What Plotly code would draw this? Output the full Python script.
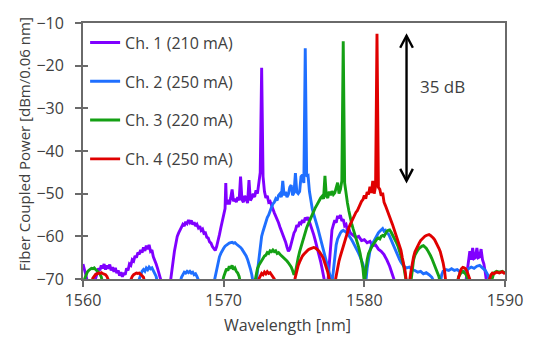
import plotly.graph_objects as go

# Spectra: (wavelength nm, fiber-coupled power dBm/0.06 nm); values below -70 sit under the axis floor
CH1 = [
    (1560.0, -66.5), (1560.1, -67.5), (1560.2, -69.0), (1560.3, -70.5), (1560.5, -71.0), (1560.8, -71.0),
    (1561.0, -69.0), (1561.1, -67.5), (1561.2, -68.0), (1561.3, -66.8), (1561.4, -67.5), (1561.5, -66.5),
    (1561.6, -67.8), (1561.7, -66.8), (1561.8, -67.6), (1561.9, -66.6), (1562.0, -68.0), (1562.1, -67.2),
    (1562.2, -68.3), (1562.3, -67.4), (1562.4, -68.6), (1562.5, -68.0), (1562.6, -69.2), (1562.7, -68.4),
    (1562.8, -69.5), (1562.9, -68.6), (1563.0, -69.0), (1563.1, -67.5), (1563.2, -68.0), (1563.3, -66.5),
    (1563.4, -66.8), (1563.5, -65.5), (1563.6, -65.8), (1563.7, -64.6), (1563.8, -65.0), (1563.9, -63.8),
    (1564.0, -64.2), (1564.1, -63.2), (1564.2, -63.8), (1564.3, -62.6), (1564.4, -63.4), (1564.5, -62.2),
    (1564.6, -63.0), (1564.7, -62.0), (1564.8, -63.5), (1564.9, -63.2), (1565.0, -64.8), (1565.1, -65.5),
    (1565.2, -66.5), (1565.3, -67.5), (1565.4, -68.6), (1565.5, -69.5), (1565.6, -71.0), (1566.2, -71.0),
    (1566.3, -69.0), (1566.4, -66.0), (1566.5, -63.5), (1566.6, -61.5), (1566.7, -60.0), (1566.8, -59.2),
    (1566.9, -58.5), (1567.0, -58.0), (1567.1, -57.2), (1567.2, -57.6), (1567.3, -56.6), (1567.4, -57.0),
    (1567.5, -56.2), (1567.6, -56.8), (1567.7, -56.3), (1567.8, -57.2), (1567.9, -56.7), (1568.0, -57.6),
    (1568.1, -57.2), (1568.2, -58.0), (1568.3, -57.6), (1568.4, -58.6), (1568.5, -58.3), (1568.6, -59.3),
    (1568.7, -59.2), (1568.8, -60.2), (1568.9, -60.4), (1569.0, -61.3), (1569.1, -61.6), (1569.2, -62.4),
    (1569.3, -62.8), (1569.4, -63.3), (1569.5, -62.4), (1569.6, -61.2), (1569.7, -59.6), (1569.8, -58.0),
    (1569.9, -56.5), (1570.0, -55.0), (1570.1, -53.5), (1570.15, -47.5), (1570.2, -52.5), (1570.3, -51.5),
    (1570.4, -52.5), (1570.5, -51.0), (1570.6, -49.0), (1570.7, -51.8), (1570.8, -51.2), (1570.9, -52.0),
    (1571.0, -50.8), (1571.1, -51.6), (1571.2, -46.0), (1571.3, -51.4), (1571.4, -52.0), (1571.5, -50.5),
    (1571.6, -51.4), (1571.7, -52.2), (1571.8, -46.8), (1571.9, -51.6), (1572.0, -51.0), (1572.1, -50.0),
    (1572.2, -50.8), (1572.3, -49.2), (1572.4, -50.0), (1572.5, -47.5), (1572.6, -45.0), (1572.7, -20.5),
    (1572.8, -46.0), (1572.9, -49.5), (1573.0, -51.0), (1573.1, -50.5), (1573.2, -52.0), (1573.3, -51.8),
    (1573.4, -53.0), (1573.5, -53.6), (1573.6, -54.5), (1573.7, -55.2), (1573.8, -56.3), (1573.9, -56.8),
    (1574.0, -57.8), (1574.1, -58.6), (1574.2, -59.6), (1574.3, -60.4), (1574.4, -61.3), (1574.5, -62.5),
    (1574.6, -63.5), (1574.7, -63.0), (1574.8, -61.5), (1574.9, -60.5), (1575.0, -59.2), (1575.1, -58.6),
    (1575.2, -57.4), (1575.3, -57.8), (1575.4, -56.6), (1575.5, -57.0), (1575.6, -56.2), (1575.7, -56.8),
    (1575.8, -55.6), (1575.9, -56.2), (1576.0, -55.5), (1576.1, -56.6), (1576.2, -57.5), (1576.3, -58.4),
    (1576.4, -59.6), (1576.5, -60.8), (1576.6, -62.0), (1576.7, -63.2), (1576.8, -64.6), (1576.9, -66.0),
    (1577.0, -67.6), (1577.1, -69.0), (1577.2, -71.0), (1577.4, -71.0), (1577.5, -66.0), (1577.6, -61.0),
    (1577.7, -58.5), (1577.8, -57.3), (1577.9, -56.2), (1578.0, -56.8), (1578.1, -55.2), (1578.2, -55.8),
    (1578.3, -55.0), (1578.4, -56.4), (1578.5, -56.0), (1578.6, -57.5), (1578.7, -57.2), (1578.8, -58.6),
    (1578.9, -58.2), (1579.0, -59.2), (1579.2, -59.8), (1579.4, -60.3), (1579.6, -60.0), (1579.8, -61.0),
    (1580.0, -60.8), (1580.2, -61.5), (1580.4, -61.2), (1580.6, -62.2), (1580.8, -62.0), (1581.0, -63.0),
    (1581.2, -63.5), (1581.4, -64.3), (1581.6, -65.5), (1581.8, -67.0), (1582.0, -69.0), (1582.2, -71.0),
    (1587.2, -71.0), (1587.3, -68.0), (1587.4, -65.5), (1587.5, -63.5), (1587.6, -65.5), (1587.7, -62.7),
    (1587.8, -65.2), (1587.9, -65.0), (1588.0, -62.7), (1588.1, -65.0), (1588.2, -64.8), (1588.3, -63.0),
    (1588.4, -65.5), (1588.5, -66.5), (1588.6, -68.5), (1588.7, -71.0), (1590.0, -71.0),
]

CH2 = [
    (1560.0, -71.0), (1563.9, -71.0), (1564.0, -70.0), (1564.1, -68.8), (1564.2, -68.2), (1564.3, -67.8),
    (1564.4, -68.2), (1564.5, -67.4), (1564.6, -67.8), (1564.7, -67.2), (1564.8, -67.6), (1564.9, -67.4),
    (1565.0, -68.0), (1565.1, -68.6), (1565.2, -69.4), (1565.3, -71.0), (1566.9, -71.0), (1567.0, -69.6),
    (1567.1, -68.8), (1567.2, -68.4), (1567.3, -68.6), (1567.4, -68.2), (1567.5, -68.5), (1567.6, -68.2),
    (1567.7, -68.6), (1567.8, -68.4), (1567.9, -69.0), (1568.0, -68.8), (1568.1, -69.4), (1568.2, -70.0),
    (1568.3, -71.0), (1569.3, -71.0), (1569.4, -69.5), (1569.5, -67.5), (1569.6, -66.0), (1569.7, -64.8),
    (1569.8, -64.0), (1569.9, -63.2), (1570.0, -62.8), (1570.1, -62.3), (1570.2, -62.0), (1570.3, -61.8),
    (1570.4, -61.6), (1570.5, -61.5), (1570.6, -61.4), (1570.7, -61.6), (1570.8, -61.5), (1570.9, -61.8),
    (1571.0, -62.0), (1571.1, -62.3), (1571.2, -62.6), (1571.3, -63.0), (1571.4, -63.5), (1571.5, -64.0),
    (1571.6, -64.6), (1571.7, -65.4), (1571.8, -66.4), (1571.9, -67.6), (1572.0, -69.0), (1572.1, -71.0),
    (1572.3, -71.0), (1572.4, -68.0), (1572.5, -64.5), (1572.6, -62.0), (1572.7, -60.0), (1572.8, -58.8),
    (1572.9, -57.6), (1573.0, -56.6), (1573.1, -55.6), (1573.2, -55.0), (1573.3, -53.8), (1573.4, -53.2),
    (1573.5, -52.4), (1573.6, -52.0), (1573.7, -51.2), (1573.8, -51.6), (1573.9, -50.4), (1574.0, -50.0),
    (1574.1, -50.8), (1574.2, -47.0), (1574.3, -50.4), (1574.4, -49.6), (1574.5, -50.8), (1574.6, -50.2),
    (1574.7, -48.5), (1574.8, -48.0), (1574.9, -50.4), (1575.0, -49.8), (1575.1, -45.2), (1575.2, -49.6),
    (1575.3, -50.0), (1575.4, -49.5), (1575.5, -46.0), (1575.6, -45.6), (1575.7, -47.5), (1575.8, -15.9),
    (1575.9, -46.0), (1576.0, -45.8), (1576.1, -49.5), (1576.2, -52.0), (1576.3, -53.6), (1576.4, -54.8),
    (1576.5, -55.8), (1576.6, -57.0), (1576.7, -58.2), (1576.8, -59.5), (1576.9, -60.8), (1577.0, -62.0),
    (1577.1, -63.2), (1577.2, -64.5), (1577.3, -65.8), (1577.4, -66.6), (1577.5, -68.0), (1577.6, -69.5),
    (1577.7, -71.0), (1577.8, -68.0), (1577.9, -64.5), (1578.0, -62.0), (1578.1, -60.6), (1578.2, -59.8),
    (1578.3, -59.2), (1578.4, -58.8), (1578.5, -58.6), (1578.6, -58.8), (1578.7, -59.0), (1578.8, -59.3),
    (1578.9, -59.8), (1579.0, -60.2), (1579.1, -60.8), (1579.2, -61.4), (1579.3, -62.0), (1579.4, -62.7),
    (1579.5, -63.4), (1579.6, -64.0), (1579.7, -64.8), (1579.8, -65.5), (1579.9, -66.5), (1580.0, -68.0),
    (1580.1, -71.0), (1580.2, -67.5), (1580.3, -65.0), (1580.4, -63.4), (1580.5, -62.2), (1580.6, -61.6),
    (1580.7, -60.8), (1580.8, -60.2), (1580.9, -59.6), (1581.0, -59.2), (1581.1, -58.8), (1581.2, -58.4),
    (1581.3, -58.2), (1581.4, -58.8), (1581.5, -58.6), (1581.6, -59.2), (1581.7, -59.4), (1581.8, -60.0),
    (1581.9, -60.8), (1582.0, -61.8), (1582.1, -62.6), (1582.2, -63.2), (1582.3, -63.8), (1582.4, -64.6),
    (1582.5, -65.4), (1582.6, -66.0), (1582.7, -66.6), (1582.8, -67.0), (1583.0, -67.4), (1583.2, -67.2),
    (1583.4, -67.8), (1583.6, -68.0), (1583.8, -68.4), (1584.0, -68.2), (1584.2, -68.8), (1584.4, -68.5),
    (1584.6, -69.0), (1584.8, -69.6), (1585.0, -71.0), (1585.4, -71.0), (1585.5, -69.0), (1585.6, -68.2),
    (1585.8, -67.8), (1586.0, -68.0), (1586.2, -67.6), (1586.4, -68.0), (1586.6, -67.8), (1586.8, -68.3),
    (1587.0, -68.4), (1587.2, -68.0), (1587.4, -67.6), (1587.6, -67.2), (1587.8, -67.5), (1588.0, -67.0),
    (1588.2, -66.8), (1588.4, -67.3), (1588.6, -68.0), (1588.8, -69.2), (1588.9, -71.0), (1590.0, -71.0),
]

CH3 = [
    (1560.0, -71.0), (1560.1, -70.0), (1560.2, -69.0), (1560.3, -68.4), (1560.4, -68.0), (1560.5, -67.8),
    (1560.6, -67.5), (1560.7, -67.6), (1560.8, -67.4), (1560.9, -67.8), (1561.0, -68.0), (1561.1, -68.4),
    (1561.2, -68.8), (1561.3, -69.5), (1561.4, -71.0), (1569.9, -71.0), (1570.0, -69.5), (1570.1, -68.4),
    (1570.2, -67.6), (1570.3, -68.0), (1570.4, -67.0), (1570.5, -67.5), (1570.6, -66.8), (1570.7, -67.8),
    (1570.8, -67.4), (1570.9, -68.2), (1571.0, -68.6), (1571.1, -69.4), (1571.2, -71.0), (1572.2, -71.0),
    (1572.3, -69.0), (1572.4, -67.6), (1572.5, -66.8), (1572.6, -66.2), (1572.7, -65.6), (1572.8, -65.2),
    (1572.9, -64.6), (1573.0, -64.4), (1573.1, -63.8), (1573.2, -64.0), (1573.3, -63.4), (1573.4, -63.6),
    (1573.5, -63.2), (1573.6, -63.6), (1573.7, -63.4), (1573.8, -64.0), (1573.9, -63.8), (1574.0, -64.2),
    (1574.1, -64.5), (1574.2, -64.8), (1574.3, -65.0), (1574.4, -65.5), (1574.5, -65.8), (1574.6, -66.2),
    (1574.7, -66.6), (1574.8, -67.2), (1574.9, -68.0), (1575.0, -69.0), (1575.1, -68.5), (1575.2, -66.5),
    (1575.3, -65.0), (1575.4, -63.6), (1575.5, -62.4), (1575.6, -61.0), (1575.7, -60.0), (1575.8, -59.0),
    (1575.9, -58.0), (1576.0, -57.2), (1576.1, -56.4), (1576.2, -55.6), (1576.3, -54.6), (1576.4, -54.0),
    (1576.5, -53.4), (1576.6, -52.8), (1576.7, -52.0), (1576.8, -51.6), (1576.9, -51.0), (1577.0, -50.6),
    (1577.1, -51.2), (1577.2, -45.8), (1577.3, -50.6), (1577.4, -51.0), (1577.5, -49.5), (1577.6, -50.4),
    (1577.7, -49.4), (1577.8, -50.2), (1577.9, -49.8), (1578.0, -48.6), (1578.1, -47.4), (1578.2, -50.0),
    (1578.3, -49.0), (1578.4, -47.0), (1578.5, -14.3), (1578.6, -47.5), (1578.7, -50.5), (1578.8, -52.2),
    (1578.9, -54.0), (1579.0, -55.8), (1579.1, -57.0), (1579.2, -58.2), (1579.3, -59.2), (1579.4, -60.2),
    (1579.5, -61.2), (1579.6, -62.6), (1579.7, -64.0), (1579.8, -65.5), (1579.9, -67.5), (1580.0, -71.0),
    (1580.1, -68.0), (1580.2, -65.5), (1580.3, -64.0), (1580.4, -63.2), (1580.5, -62.5), (1580.6, -62.0),
    (1580.7, -61.6), (1580.8, -61.0), (1580.9, -60.6), (1581.0, -60.4), (1581.1, -60.6), (1581.2, -60.0),
    (1581.3, -59.8), (1581.4, -60.0), (1581.5, -59.2), (1581.6, -58.8), (1581.7, -58.6), (1581.8, -58.5),
    (1581.9, -59.0), (1582.0, -59.6), (1582.1, -60.2), (1582.2, -60.8), (1582.3, -61.6), (1582.4, -62.4),
    (1582.5, -63.4), (1582.6, -64.4), (1582.7, -65.6), (1582.8, -67.0), (1582.9, -69.0), (1583.0, -71.0),
    (1583.3, -71.0), (1583.4, -68.0), (1583.5, -65.5), (1583.6, -64.4), (1583.7, -63.6), (1583.8, -63.2),
    (1583.9, -62.8), (1584.0, -62.5), (1584.1, -62.3), (1584.2, -62.2), (1584.3, -62.4), (1584.4, -62.8),
    (1584.5, -63.3), (1584.6, -63.8), (1584.7, -64.5), (1584.8, -65.2), (1584.9, -66.0), (1585.0, -66.8),
    (1585.1, -67.5), (1585.2, -68.4), (1585.3, -69.4), (1585.4, -71.0), (1586.6, -71.0), (1586.7, -69.5),
    (1586.8, -68.8), (1586.9, -68.4), (1587.0, -68.2), (1587.1, -68.4), (1587.2, -68.8), (1587.3, -69.5),
    (1587.4, -71.0), (1589.0, -71.0), (1589.1, -69.5), (1589.2, -68.6), (1589.4, -68.2), (1589.6, -68.4),
    (1589.8, -68.2), (1590.0, -68.6),
]

CH4 = [
    (1560.0, -71.0), (1560.6, -71.0), (1560.7, -69.8), (1560.8, -69.2), (1560.9, -68.9), (1561.0, -68.8),
    (1561.1, -68.6), (1561.2, -68.7), (1561.3, -68.5), (1561.4, -68.7), (1561.5, -68.8), (1561.6, -69.0),
    (1561.7, -69.4), (1561.8, -70.0), (1561.9, -71.0), (1563.3, -71.0), (1563.4, -70.0), (1563.5, -69.4),
    (1563.6, -69.0), (1563.7, -68.8), (1563.8, -68.6), (1563.9, -68.7), (1564.0, -68.6), (1564.1, -68.9),
    (1564.2, -69.2), (1564.3, -69.6), (1564.4, -71.0), (1572.4, -71.0), (1572.5, -70.0), (1572.6, -69.2),
    (1572.7, -68.7), (1572.8, -69.0), (1572.9, -68.4), (1573.0, -68.8), (1573.1, -68.3), (1573.2, -68.7),
    (1573.3, -68.5), (1573.4, -69.0), (1573.5, -69.4), (1573.6, -70.0), (1573.7, -71.0), (1575.0, -71.0),
    (1575.1, -69.5), (1575.2, -67.8), (1575.3, -66.8), (1575.4, -66.0), (1575.5, -65.2), (1575.6, -64.6),
    (1575.7, -64.2), (1575.8, -63.8), (1575.9, -63.5), (1576.0, -63.2), (1576.1, -63.0), (1576.2, -62.8),
    (1576.3, -62.7), (1576.4, -62.6), (1576.5, -62.7), (1576.6, -62.9), (1576.7, -63.2), (1576.8, -63.6),
    (1576.9, -64.0), (1577.0, -64.6), (1577.1, -65.3), (1577.2, -66.2), (1577.3, -67.2), (1577.4, -68.4),
    (1577.5, -70.0), (1577.6, -71.0), (1577.9, -71.0), (1578.0, -69.0), (1578.1, -67.2), (1578.2, -65.8),
    (1578.3, -64.6), (1578.4, -63.4), (1578.5, -62.2), (1578.6, -61.2), (1578.7, -60.2), (1578.8, -59.0),
    (1578.9, -58.0), (1579.0, -57.2), (1579.1, -56.4), (1579.2, -55.8), (1579.3, -55.2), (1579.4, -54.4),
    (1579.5, -54.0), (1579.6, -53.2), (1579.7, -52.8), (1579.8, -51.8), (1579.9, -51.4), (1580.0, -50.4),
    (1580.1, -51.2), (1580.2, -49.6), (1580.3, -50.2), (1580.4, -48.4), (1580.5, -49.8), (1580.6, -47.0),
    (1580.7, -50.0), (1580.8, -48.2), (1580.9, -12.5), (1581.0, -48.5), (1581.1, -49.0), (1581.2, -50.5),
    (1581.3, -49.8), (1581.4, -52.0), (1581.5, -52.8), (1581.6, -53.6), (1581.7, -54.4), (1581.8, -55.2),
    (1581.9, -56.2), (1582.0, -57.2), (1582.1, -58.2), (1582.2, -59.2), (1582.3, -60.2), (1582.4, -61.0),
    (1582.5, -61.8), (1582.6, -63.2), (1582.7, -65.0), (1582.8, -66.6), (1582.9, -68.2), (1583.0, -71.0),
    (1583.2, -71.0), (1583.3, -68.5), (1583.4, -66.5), (1583.5, -64.8), (1583.6, -63.6), (1583.7, -62.8),
    (1583.8, -62.0), (1583.9, -61.6), (1584.0, -61.0), (1584.1, -60.6), (1584.2, -60.3), (1584.3, -60.0),
    (1584.4, -59.8), (1584.5, -59.7), (1584.6, -59.6), (1584.7, -59.8), (1584.8, -60.0), (1584.9, -60.4),
    (1585.0, -60.8), (1585.1, -61.4), (1585.2, -62.0), (1585.3, -62.8), (1585.4, -63.6), (1585.5, -64.8),
    (1585.6, -66.2), (1585.7, -68.0), (1585.8, -71.0), (1586.6, -71.0), (1586.7, -69.5), (1586.8, -68.4),
    (1586.9, -67.6), (1587.0, -67.3), (1587.1, -67.4), (1587.2, -67.6), (1587.3, -68.2), (1587.4, -69.0),
    (1587.5, -69.8), (1587.6, -71.0), (1588.8, -71.0), (1588.9, -70.0), (1589.0, -69.0), (1589.1, -68.6),
    (1589.2, -68.8), (1589.4, -68.4), (1589.6, -68.6), (1589.8, -68.3), (1590.0, -68.8),
]

CHANNEL_NAMES = ["Ch. 1 (210 mA)", "Ch. 2 (250 mA)", "Ch. 3 (220 mA)", "Ch. 4 (250 mA)"]
CHANNEL_COLORS = ["#8000ff", "#1f6fff", "#14a014", "#e00000"]
CHANNELS = [CH1, CH2, CH3, CH4]

X_TICKS = [1560, 1570, 1580, 1590]
Y_TICKS = [-70, -60, -50, -40, -30, -20, -10]

# Side-mode suppression marker: double arrow spanning 35 dB
ARROW_X = 1583.0
ARROW_TOP = -13.0
ARROW_BOTTOM = -47.0
SMSR_LABEL = "35 dB"

FONT = "Open Sans"
TEXT_COLOR = "#404040"
AXIS_COLOR = "#6a6a6a"

fig = go.Figure()
for name, color, data in zip(CHANNEL_NAMES, CHANNEL_COLORS, CHANNELS):
    fig.add_trace(go.Scatter(
        x=[p[0] for p in data],
        y=[p[1] for p in data],
        mode="lines",
        name=name,
        legendgroup=name,
        line=dict(color=color, width=2.9),
    ))

# empty trace so the overlaid tick axis is laid out
fig.add_trace(go.Scatter(x=[], y=[], yaxis="y2", showlegend=False, hoverinfo="skip"))

# double-headed arrow with open chevron heads
head_dx, head_dy = 0.45, 2.8
arrow_line = dict(color="black", width=2.4)
fig.add_shape(type="line", xref="x", yref="y", x0=ARROW_X, x1=ARROW_X,
              y0=ARROW_BOTTOM, y1=ARROW_TOP, line=arrow_line)
fig.add_shape(type="path", xref="x", yref="y", line=arrow_line,
              path=f"M {ARROW_X - head_dx} {ARROW_TOP - head_dy} L {ARROW_X} {ARROW_TOP} L {ARROW_X + head_dx} {ARROW_TOP - head_dy}")
fig.add_shape(type="path", xref="x", yref="y", line=arrow_line,
              path=f"M {ARROW_X - head_dx} {ARROW_BOTTOM + head_dy} L {ARROW_X} {ARROW_BOTTOM} L {ARROW_X + head_dx} {ARROW_BOTTOM + head_dy}")
fig.add_annotation(x=ARROW_X + 2.55, y=-24.8, xref="x", yref="y", text=SMSR_LABEL,
                   showarrow=False, font=dict(family=FONT, size=17, color=TEXT_COLOR))

# axis titles
fig.add_annotation(x=-0.141, y=0.528, xref="paper", yref="paper", textangle=-90,
                   xanchor="center", yanchor="middle",
                   text="Fiber Coupled Power [dBm/0.06 nm]", showarrow=False,
                   font=dict(family=FONT, size=15, color=TEXT_COLOR))
fig.add_annotation(x=0.485, y=-0.18, xref="paper", yref="paper",
                   xanchor="center", yanchor="middle",
                   text="Wavelength [nm]", showarrow=False,
                   font=dict(family=FONT, size=16, color=TEXT_COLOR))

fig.update_layout(
    width=535, height=337,
    margin=dict(l=83, r=26, t=16, b=58),
    paper_bgcolor="white", plot_bgcolor="white",
    font=dict(family=FONT, size=16, color=TEXT_COLOR),
    showlegend=True,
    legend=dict(x=0.005, y=0.99, xanchor="left", yanchor="top",
                bgcolor="rgba(0,0,0,0)", tracegroupgap=15,
                font=dict(family=FONT, size=16, color=TEXT_COLOR)),
    xaxis=dict(range=[1560, 1590], tickvals=X_TICKS, ticks="outside", ticklen=6,
               tickcolor=AXIS_COLOR, tickwidth=1.5, showline=True, linecolor=AXIS_COLOR,
               linewidth=1.8, mirror=True, showgrid=False, zeroline=False,
               tickfont=dict(family=FONT, size=16, color=TEXT_COLOR)),
    yaxis=dict(range=[-70, -10], tickvals=Y_TICKS, ticks="outside", ticklen=6,
               tickcolor=AXIS_COLOR, tickwidth=1.5, showline=True, linecolor=AXIS_COLOR,
               linewidth=1.8, mirror=True, showgrid=False, zeroline=False,
               ticklabelstandoff=8,
               tickfont=dict(family=FONT, size=16, color=TEXT_COLOR)),
    # second y axis carries the inner half of the crossing tick marks
    yaxis2=dict(overlaying="y", anchor="x", side="left", range=[-70, -10], tickvals=Y_TICKS,
                ticks="inside", ticklen=5, tickwidth=1.5, tickcolor=AXIS_COLOR,
                showticklabels=False, showline=False, showgrid=False, zeroline=False),
)

fig.write_html("out.html")
